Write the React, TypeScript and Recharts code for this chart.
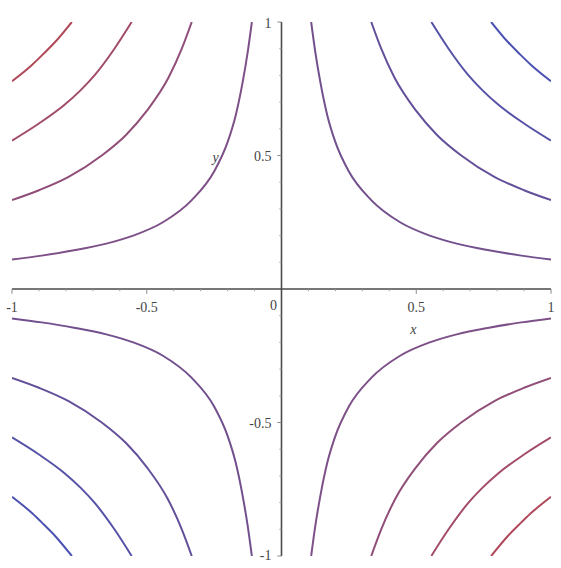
import { LineChart, Line, XAxis, YAxis, ReferenceLine, ReferenceDot } from "recharts"

// contour levels of x*y, and the first-quadrant trace of each |level|
const levels = [0.111, 0.333, 0.556, 0.778]

const trace111 = [
  [0.11, 1], [0.125, 0.89], [0.145, 0.77], [0.17, 0.65], [0.2, 0.55], [0.25, 0.44],
  [0.333, 0.333], [0.44, 0.25], [0.55, 0.2], [0.65, 0.17], [0.77, 0.145], [0.89, 0.125], [1, 0.11],
]
const trace333 = [
  [0.333, 1], [0.37, 0.9], [0.42, 0.79], [0.5, 0.667], [0.577, 0.577], [0.667, 0.5],
  [0.79, 0.42], [0.9, 0.37], [1, 0.333],
]
const trace556 = [
  [0.556, 1], [0.62, 0.9], [0.69, 0.805], [0.745, 0.745], [0.805, 0.69], [0.9, 0.62], [1, 0.556],
]
const trace778 = [[0.778, 1], [0.84, 0.925], [0.882, 0.882], [0.925, 0.84], [1, 0.778]]

const traces = [trace111, trace333, trace556, trace778]

// positive levels shade toward blue, negative toward red
const posColors = ["#72508e", "#64509a", "#5652a8", "#4c52b2"]
const negColors = ["#7e5088", "#904e78", "#a24c68", "#b04a5a"]

const xMajor = [-1, -0.5, 0.5, 1]
const xMajorLabels = ["-1", "-0.5", "0.5", "1"]
const yMajor = [-1, -0.5, 0.5, 1]
const yMajorLabels = ["-1", "-0.5", "0.5", "1"]
const minorTicks = [-0.9, -0.8, -0.7, -0.6, -0.4, -0.3, -0.2, -0.1, 0.1, 0.2, 0.3, 0.4, 0.6, 0.7, 0.8, 0.9]

type Pt = { x: number; y: number }

function mirror(pts: number[][], sx: number, sy: number): Pt[] {
  return pts.map(([x, y]) => ({ x: x * sx, y: y * sy })).sort((a, b) => a.x - b.x)
}

const curves: { key: string; data: Pt[]; color: string }[] = []
levels.forEach((lv, i) => {
  curves.push({ key: `p${lv}-a`, data: mirror(traces[i], 1, 1), color: posColors[i] })
  curves.push({ key: `p${lv}-b`, data: mirror(traces[i], -1, -1), color: posColors[i] })
  curves.push({ key: `n${lv}-a`, data: mirror(traces[i], -1, 1), color: negColors[i] })
  curves.push({ key: `n${lv}-b`, data: mirror(traces[i], 1, -1), color: negColors[i] })
})

const font = "'Liberation Serif', 'Times New Roman', serif"
const axisColor = "#4a4a4a"

function TextAt(props: any) {
  const { viewBox, text, dx = 0, dy = 0, anchor = "middle", italic = false } = props
  if (!viewBox) return null
  return (
    <text
      x={viewBox.x + dx}
      y={viewBox.y + dy}
      textAnchor={anchor}
      fontFamily={font}
      fontSize={14}
      fontStyle={italic ? "italic" : "normal"}
      fill="#444"
    >
      {text}
    </text>
  )
}

export default function App() {
  return (
    <div style={{ position: "absolute", left: 0, top: 0 }}>
      <LineChart width={561} height={568} margin={{ top: 22, right: 10, bottom: 12, left: 12 }}>
        <XAxis type="number" dataKey="x" domain={[-1, 1]} hide allowDataOverflow />
        <YAxis type="number" dataKey="y" domain={[-1, 1]} hide allowDataOverflow />

        <ReferenceLine y={0} stroke={axisColor} strokeWidth={1.6} />
        <ReferenceLine x={0} stroke={axisColor} strokeWidth={1.6} />

        {minorTicks.map((t) => (
          <ReferenceLine key={`mx${t}`} segment={[{ x: t, y: 0 }, { x: t, y: -0.008 }]} stroke="#999" />
        ))}
        {minorTicks.map((t) => (
          <ReferenceLine key={`my${t}`} segment={[{ x: 0, y: t }, { x: -0.008, y: t }]} stroke="#999" />
        ))}
        {xMajor.map((t) => (
          <ReferenceLine key={`Mx${t}`} segment={[{ x: t, y: 0 }, { x: t, y: -0.018 }]} stroke="#888" />
        ))}
        {yMajor.map((t) => (
          <ReferenceLine key={`My${t}`} segment={[{ x: 0, y: t }, { x: -0.015, y: t }]} stroke="#888" />
        ))}

        {curves.map((c) => (
          <Line
            key={c.key}
            data={c.data}
            dataKey="y"
            type="monotone"
            stroke={c.color}
            strokeWidth={2}
            dot={false}
            isAnimationActive={false}
          />
        ))}

        {xMajor.map((t, i) => (
          <ReferenceDot
            key={`lx${t}`}
            x={t}
            y={0}
            r={0}
            fill="none"
            stroke="none"
            label={<TextAt text={xMajorLabels[i]} dy={23} />}
          />
        ))}
        <ReferenceDot x={0} y={0} r={0} fill="none" stroke="none" label={<TextAt text="0" dx={-8} dy={21} />} />
        {yMajor.map((t, i) => (
          <ReferenceDot
            key={`ly${t}`}
            x={0}
            y={t}
            r={0}
            fill="none"
            stroke="none"
            label={
              <TextAt
                text={yMajorLabels[i]}
                anchor="end"
                dx={-10}
                dy={t === 1 ? 6 : t === -1 ? 4 : 5}
              />
            }
          />
        ))}
        <ReferenceDot x={0.5} y={0} r={0} fill="none" stroke="none" label={<TextAt text="x" italic dx={-3} dy={45} />} />
        <ReferenceDot x={0} y={0.5} r={0} fill="none" stroke="none" label={<TextAt text="y" italic dx={-66} dy={6} />} />
      </LineChart>
    </div>
  )
}
